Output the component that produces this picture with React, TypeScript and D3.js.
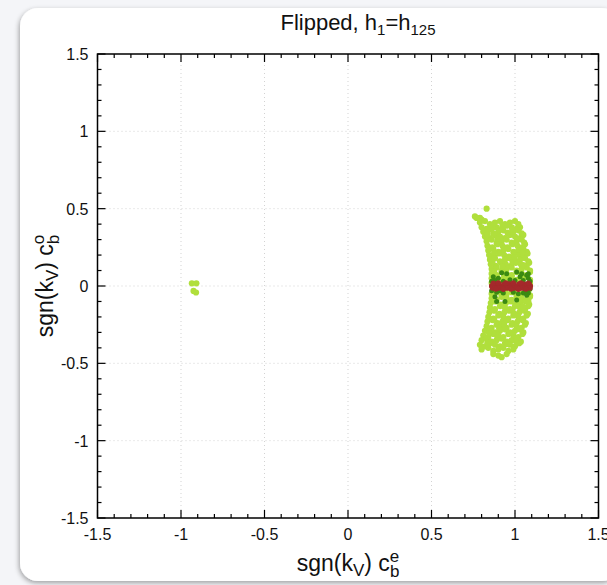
import React from "react";
import * as d3 from "d3";

const xMajorTicks = [-1.5, -1, -0.5, 0, 0.5, 1, 1.5];
const yMajorTicks = [-1.5, -1, -0.5, 0, 0.5, 1, 1.5];
const xTickLabels = ["-1.5", "-1", "-0.5", "0", "0.5", "1", "1.5"];
const yTickLabels = ["-1.5", "-1", "-0.5", "0", "0.5", "1", "1.5"];

// light green: all points
const lightGreen: [number, number][] = [
  [-0.935, 0.017], [-0.908, 0.017], [-0.925, -0.032], [-0.91, -0.042],
  [0.76, 0.45], [0.79, 0.44], [0.83, 0.5], [0.8, 0.43], [0.77, 0.44],
  [0.79, 0.41], [0.82, 0.42], [0.85, 0.4], [0.88, 0.41], [0.91, 0.42], [0.94, 0.4], [0.97, 0.41], [1.0, 0.42], [1.02, 0.4],
  [0.8, 0.38], [0.83, 0.37], [0.86, 0.39], [0.89, 0.38], [0.92, 0.37], [0.95, 0.39], [0.98, 0.38], [1.01, 0.37], [1.03, 0.38],
  [0.81, 0.35], [0.84, 0.36], [0.87, 0.34], [0.9, 0.35], [0.93, 0.36], [0.96, 0.34], [0.99, 0.35], [1.02, 0.36], [1.04, 0.34],
  [0.82, 0.32], [0.85, 0.31], [0.88, 0.33], [0.91, 0.32], [0.94, 0.31], [0.97, 0.33], [1.0, 0.32], [1.03, 0.31], [1.05, 0.33],
  [0.83, 0.29], [0.86, 0.3], [0.89, 0.28], [0.92, 0.29], [0.95, 0.3], [0.98, 0.28], [1.01, 0.29], [1.04, 0.3], [1.055, 0.28],
  [0.835, 0.26], [0.865, 0.25], [0.895, 0.27], [0.925, 0.26], [0.955, 0.25], [0.985, 0.27], [1.015, 0.26], [1.045, 0.25], [1.06, 0.27],
  [0.84, 0.23], [0.87, 0.24], [0.9, 0.22], [0.93, 0.23], [0.96, 0.24], [0.99, 0.22], [1.02, 0.23], [1.05, 0.24], [1.07, 0.22],
  [0.845, 0.2], [0.875, 0.19], [0.905, 0.21], [0.935, 0.2], [0.965, 0.19], [0.995, 0.21], [1.025, 0.2], [1.055, 0.19], [1.075, 0.21],
  [0.85, 0.17], [0.88, 0.18], [0.91, 0.16], [0.94, 0.17], [0.97, 0.18], [1.0, 0.16], [1.03, 0.17], [1.06, 0.18], [1.08, 0.16],
  [0.855, 0.14], [0.885, 0.13], [0.915, 0.15], [0.945, 0.14], [0.975, 0.13], [1.005, 0.15], [1.035, 0.14], [1.065, 0.13], [1.085, 0.15],
  [0.86, 0.11], [0.89, 0.12], [0.92, 0.1], [0.95, 0.11], [0.98, 0.12], [1.01, 0.1], [1.04, 0.11], [1.07, 0.12], [1.09, 0.1],
  [0.86, 0.08], [0.89, 0.07], [0.92, 0.09], [0.95, 0.08], [0.98, 0.07], [1.01, 0.09], [1.04, 0.08], [1.07, 0.07], [1.09, 0.09],
  [0.86, 0.05], [0.89, 0.06], [0.92, 0.04], [0.95, 0.05], [0.98, 0.06], [1.01, 0.04], [1.04, 0.05], [1.07, 0.06], [1.09, 0.04],
  [0.86, 0.02], [0.9, 0.025], [0.96, 0.03], [1.03, 0.025], [1.09, 0.015], [0.87, -0.025], [0.94, -0.03], [1.0, -0.025], [1.08, -0.03],
  [0.86, -0.05], [0.89, -0.04], [0.92, -0.06], [0.95, -0.05], [0.98, -0.04], [1.01, -0.06], [1.04, -0.05], [1.07, -0.04], [1.09, -0.06],
  [0.86, -0.08], [0.89, -0.09], [0.92, -0.07], [0.95, -0.08], [0.98, -0.09], [1.01, -0.07], [1.04, -0.08], [1.07, -0.09], [1.09, -0.07],
  [0.855, -0.11], [0.885, -0.1], [0.915, -0.12], [0.945, -0.11], [0.975, -0.1], [1.005, -0.12], [1.035, -0.11], [1.065, -0.1], [1.085, -0.12],
  [0.85, -0.14], [0.88, -0.15], [0.91, -0.13], [0.94, -0.14], [0.97, -0.15], [1.0, -0.13], [1.03, -0.14], [1.06, -0.15], [1.08, -0.13],
  [0.847, -0.17], [0.877, -0.16], [0.907, -0.18], [0.937, -0.17], [0.967, -0.16], [0.997, -0.18], [1.027, -0.17], [1.057, -0.16], [1.077, -0.18],
  [0.84, -0.2], [0.87, -0.21], [0.9, -0.19], [0.93, -0.2], [0.96, -0.21], [0.99, -0.19], [1.02, -0.2], [1.05, -0.21], [1.07, -0.19],
  [0.835, -0.23], [0.865, -0.22], [0.895, -0.24], [0.925, -0.23], [0.955, -0.22], [0.985, -0.24], [1.015, -0.23], [1.045, -0.22], [1.065, -0.24],
  [0.83, -0.26], [0.86, -0.27], [0.89, -0.25], [0.92, -0.26], [0.95, -0.27], [0.98, -0.25], [1.01, -0.26], [1.04, -0.27], [1.06, -0.25],
  [0.82, -0.29], [0.85, -0.28], [0.88, -0.3], [0.91, -0.29], [0.94, -0.28], [0.97, -0.3], [1.0, -0.29], [1.03, -0.28], [1.05, -0.3],
  [0.81, -0.32], [0.84, -0.33], [0.87, -0.31], [0.9, -0.32], [0.93, -0.33], [0.96, -0.31], [0.99, -0.32], [1.02, -0.33], [1.045, -0.31],
  [0.8, -0.35], [0.83, -0.34], [0.86, -0.36], [0.89, -0.35], [0.92, -0.34], [0.95, -0.36], [0.98, -0.35], [1.01, -0.34], [1.035, -0.36],
  [0.79, -0.38], [0.82, -0.39], [0.85, -0.37], [0.88, -0.38], [0.91, -0.39], [0.94, -0.37], [0.97, -0.38], [1.0, -0.39], [1.025, -0.37],
  [0.8, -0.41], [0.84, -0.4], [0.87, -0.42], [0.9, -0.41], [0.93, -0.4], [0.96, -0.42], [0.99, -0.41],
  [0.87, -0.44], [0.9, -0.45], [0.95, -0.44], [0.92, -0.46],
  // in-fill between rows
  [0.865, 0.375], [0.925, 0.395], [0.985, 0.365], [0.835, 0.335], [0.895, 0.305], [0.955, 0.345], [1.015, 0.305],
  [0.875, 0.215], [0.935, 0.245], [0.995, 0.185], [1.045, 0.215], [0.865, 0.155], [0.925, 0.125], [0.985, 0.155], [1.05, 0.135],
  [0.875, 0.095], [0.935, 0.065], [1.025, 0.095], [0.865, -0.095], [0.935, -0.065], [1.025, -0.095], [1.08, -0.1],
  [0.865, -0.155], [0.925, -0.125], [0.985, -0.155], [1.05, -0.135], [0.875, -0.215], [0.935, -0.245], [0.995, -0.185],
  [1.045, -0.215], [0.845, -0.305], [0.905, -0.275], [0.965, -0.305], [1.025, -0.275], [0.835, -0.365], [0.895, -0.335],
  [0.955, -0.375], [1.005, -0.355],
];

// dark green: intermediate points
const darkGreen: [number, number][] = [
  [0.87, 0.06], [0.92, 0.086], [0.95, 0.08], [1.01, 0.09], [1.08, 0.08], [1.07, 0.07], [1.08, 0.05],
  [0.9, 0.05], [0.97, 0.04], [1.03, 0.06], [1.05, 0.035], [0.88, 0.035], [1.09, 0.03], [0.93, 0.03],
  [0.89, -0.04], [0.93, -0.045], [0.99, -0.04], [1.05, -0.045], [1.08, -0.045], [0.94, -0.1], [1.01, -0.09],
  [0.88, -0.07], [0.89, -0.1], [1.07, -0.06], [1.02, -0.05], [0.91, -0.03], [1.06, -0.03],
  [0.86, -0.03], [1.09, -0.02], [0.86, 0.03], [1.0, 0.035], [1.04, 0.08],
];

// red: best-fit band
const red: [number, number][] = [
  [0.86, 0.0], [0.875, 0.012], [0.89, 0.0], [0.905, 0.013], [0.92, -0.002], [0.935, 0.012], [0.95, 0.0], [0.965, 0.014],
  [0.98, 0.001], [0.995, 0.012], [1.01, -0.001], [1.025, 0.013], [1.04, 0.0], [1.055, 0.012], [1.07, 0.001], [1.085, 0.012], [1.092, 0.0],
  [0.865, -0.013], [0.88, -0.012], [0.895, -0.014], [0.91, -0.012], [0.925, -0.015], [0.94, -0.012], [0.955, -0.014], [0.97, -0.012],
  [0.985, -0.015], [1.0, -0.013], [1.015, -0.012], [1.03, -0.014], [1.045, -0.013], [1.06, -0.015], [1.075, -0.012], [1.09, -0.013],
  [0.87, 0.018], [0.9, 0.02], [0.945, 0.02], [0.99, 0.019], [1.035, 0.02], [1.08, 0.018],
  [0.885, -0.02], [0.93, -0.021], [0.975, -0.02], [1.02, -0.021], [1.065, -0.02],
];

const W = 607;
const H = 585;
const FONT = "'Liberation Sans', Arial, sans-serif";

export default function App() {
  const x = d3.scaleLinear().domain([-1.5, 1.5]).range([97.5, 598.5]);
  const y = d3.scaleLinear().domain([-1.5, 1.5]).range([518, 54]);
  const [x0, x1] = x.range();
  const [y0, y1] = y.range();
  const xMinor = x.ticks(30);
  const yMinor = y.ticks(30);
  const isMajor = (v: number) => Math.abs(v * 2 - Math.round(v * 2)) < 1e-6;
  const majorLen = 8;
  const minorLen = 4;

  return (
    <svg
      width={W}
      height={H}
      style={{ position: "fixed", left: 0, top: 0, display: "block" }}
      fontFamily={FONT}
    >
      <defs>
        <filter id="shadow" x="-10%" y="-10%" width="120%" height="120%">
          <feDropShadow dx="-1" dy="2" stdDeviation="2.5" floodColor="#000" floodOpacity="0.35" />
        </filter>
      </defs>
      <rect x={0} y={0} width={W} height={H} fill="#f4f5f8" />
      <rect x={20} y={8} width={600} height={573} rx={18} ry={18} fill="#ffffff" filter="url(#shadow)" />

      {/* grid */}
      {xMajorTicks.slice(1, -1).map((t) => (
        <line key={"gx" + t} x1={x(t)} x2={x(t)} y1={y0} y2={y1} stroke="#c8c8c8" strokeWidth={0.8} strokeDasharray="1,3" />
      ))}
      {yMajorTicks.slice(1, -1).map((t) => (
        <line key={"gy" + t} x1={x0} x2={x1} y1={y(t)} y2={y(t)} stroke="#c8c8c8" strokeWidth={0.8} strokeDasharray="1,3" />
      ))}

      {/* points */}
      {lightGreen.map((d, i) => (
        <circle key={"l" + i} cx={x(d[0])} cy={y(d[1])} r={3.1} fill="#b0df3c" />
      ))}
      {darkGreen.map((d, i) => (
        <circle key={"d" + i} cx={x(d[0])} cy={y(d[1])} r={2.5} fill="#3b8a12" />
      ))}
      {red.map((d, i) => (
        <circle key={"r" + i} cx={x(d[0])} cy={y(d[1])} r={2.7} fill="#a4292b" />
      ))}

      {/* ticks */}
      {xMinor.map((t) => {
        const len = isMajor(t) ? majorLen : minorLen;
        return (
          <g key={"tx" + t}>
            <line x1={x(t)} x2={x(t)} y1={y0} y2={y0 - len} stroke="#000" strokeWidth={1.2} />
            <line x1={x(t)} x2={x(t)} y1={y1} y2={y1 + len} stroke="#000" strokeWidth={1.2} />
          </g>
        );
      })}
      {yMinor.map((t) => {
        const len = isMajor(t) ? majorLen : minorLen;
        return (
          <g key={"ty" + t}>
            <line x1={x0} x2={x0 + len} y1={y(t)} y2={y(t)} stroke="#000" strokeWidth={1.2} />
            <line x1={x1} x2={x1 - len} y1={y(t)} y2={y(t)} stroke="#000" strokeWidth={1.2} />
          </g>
        );
      })}
      <rect x={x0} y={y1} width={x1 - x0} height={y0 - y1} fill="none" stroke="#000" strokeWidth={1.5} />

      {/* tick labels */}
      {xMajorTicks.map((t, i) => (
        <text key={"lx" + t} x={x(t)} y={y0 + 22} textAnchor="middle" fontSize={16} fill="#111">
          {xTickLabels[i]}
        </text>
      ))}
      {yMajorTicks.map((t, i) => (
        <text key={"ly" + t} x={x0 - 9} y={y(t) + 6} textAnchor="end" fontSize={16} fill="#111">
          {yTickLabels[i]}
        </text>
      ))}

      {/* title */}
      <text x={358} y={30} textAnchor="middle" fontSize={22} fill="#111">
        Flipped, h<tspan fontSize={15} dy={5}>1</tspan>
        <tspan dy={-5}>=h</tspan>
        <tspan fontSize={15} dy={5}>125</tspan>
      </text>

      {/* x axis label */}
      <text x={348} y={571} textAnchor="middle" fontSize={23} fill="#111">
        sgn(k<tspan fontSize={17} dy={5}>V</tspan>
        <tspan dy={-5}>) c</tspan>
        <tspan fontSize={17} dy={-9}>e</tspan>
        <tspan fontSize={17} dx={-9.4} dy={15}>b</tspan>
      </text>

      {/* y axis label */}
      <text transform={`translate(53, ${y(0)}) rotate(-90)`} textAnchor="middle" fontSize={23} fill="#111">
        sgn(k<tspan fontSize={17} dy={5}>V</tspan>
        <tspan dy={-5}>) c</tspan>
        <tspan fontSize={17} dy={-9}>o</tspan>
        <tspan fontSize={17} dx={-9.4} dy={15}>b</tspan>
      </text>
    </svg>
  );
}
